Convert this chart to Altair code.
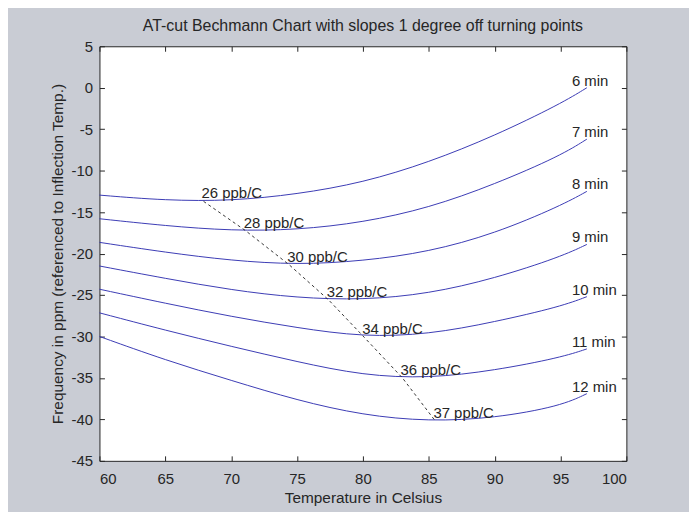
import altair as alt
import pandas as pd

# ---------------- data ----------------
temps = [60, 65, 70, 75, 80, 85, 90, 95, 97]
curve_names = ["6 min", "7 min", "8 min", "9 min", "10 min", "11 min", "12 min"]
v6 = [-12.95, -13.6, -13.65, -12.85, -11.45, -9.0, -5.8, -1.95, 0.0]
v7 = [-15.8, -16.65, -17.25, -17.15, -16.25, -14.5, -11.65, -8.2, -6.2]
v8 = [-18.65, -19.85, -20.85, -21.35, -20.9, -19.8, -17.6, -14.25, -12.5]
v9 = [-21.5, -23.0, -24.4, -25.35, -25.6, -24.85, -23.0, -20.4, -18.9]
v10 = [-24.3, -26.0, -27.6, -28.95, -30.05, -29.75, -28.25, -26.4, -25.2]
v11 = [-27.15, -29.25, -31.2, -33.05, -34.7, -35.05, -34.1, -32.55, -31.5]
v12 = [-30.0, -32.85, -35.3, -37.7, -39.5, -40.25, -39.85, -38.4, -36.9]
curve_values = [v6, v7, v8, v9, v10, v11, v12]

# turning points joined by the dashed line
tp_T = [67.9, 71.1, 74.4, 77.4, 80.1, 83.0, 85.5]
tp_v = [-13.7, -17.25, -21.35, -25.6, -30.1, -35.0, -40.2]
tp_labels = ["26 ppb/C", "28 ppb/C", "30 ppb/C", "32 ppb/C", "34 ppb/C", "36 ppb/C", "37 ppb/C"]

x_ticks = [60, 65, 70, 75, 80, 85, 90, 95, 100]
y_ticks = [5, 0, -5, -10, -15, -20, -25, -30, -35, -40, -45]

# ---------------- tables ----------------
rows = []
for name, vals in zip(curve_names, curve_values):
    for t, v in zip(temps, vals):
        rows.append({"curve": name, "T": t, "v": v})
curves_df = pd.DataFrame(rows)

ends_df = pd.DataFrame({
    "curve": curve_names,
    "T": [temps[-1]] * len(curve_names),
    "v": [vals[-1] for vals in curve_values],
})
tp_df = pd.DataFrame({"T": tp_T, "v": tp_v, "label": tp_labels})

FONT = "Liberation Sans"
INK = "#262626"
W, H = 530, 417

xscale = alt.Scale(domain=[60, 100], nice=False, zero=False)
yscale = alt.Scale(domain=[-45, 5], nice=False, zero=False)

# main axes: labels + titles, no ticks
ax_x_main = alt.Axis(orient="bottom", values=x_ticks, tickSize=0, domain=False, grid=False,
                     labelPadding=11, title="Temperature in Celsius", titlePadding=4,
                     labelFontSize=15, titleFontSize=15.5, labelExpr="toString(datum.value)")
ax_y_main = alt.Axis(orient="left", values=y_ticks, tickSize=0, domain=False, grid=False,
                     labelPadding=7, title="Frequency in ppm (referenced to Inflection Temp.)",
                     titlePadding=6, labelFontSize=15, titleFontSize=15.5,
                     labelExpr="toString(datum.value)")
# inward ticks at bottom / left
ax_x_in_bottom = alt.Axis(orient="top", offset=-H, values=x_ticks, tickSize=5, labels=False,
                          domain=False, grid=False, title=None)
ax_y_in_left = alt.Axis(orient="right", offset=-W, values=y_ticks, tickSize=5, labels=False,
                        domain=False, grid=False, title=None)
# inward ticks at top / right
ax_x_in_top = alt.Axis(orient="bottom", offset=-H, values=x_ticks, tickSize=5, labels=False,
                       domain=False, grid=False, title=None)
ax_y_in_right = alt.Axis(orient="left", offset=-W, values=y_ticks, tickSize=5, labels=False,
                         domain=False, grid=False, title=None)

lines = alt.Chart(curves_df).mark_line(color="#3b3bb4", strokeWidth=1, interpolate="basis").encode(
    x=alt.X("T:Q", scale=xscale, axis=ax_x_main),
    y=alt.Y("v:Q", scale=yscale, axis=ax_y_main),
    detail="curve:N",
    order="T:Q",
)

dashed = alt.Chart(tp_df).mark_line(color="#222222", strokeWidth=0.9, strokeDash=[3, 3]).encode(
    x=alt.X("T:Q", scale=xscale, axis=ax_x_in_bottom),
    y=alt.Y("v:Q", scale=yscale, axis=ax_y_in_left),
    order="T:Q",
)

end_labels = alt.Chart(ends_df).mark_text(
    align="left", baseline="alphabetic", dx=-15, dy=-2, font=FONT, fontSize=15, color=INK
).encode(
    x=alt.X("T:Q", scale=xscale, axis=ax_x_in_top),
    y=alt.Y("v:Q", scale=yscale, axis=ax_y_in_right),
    text="curve:N",
)

tp_text = alt.Chart(tp_df).mark_text(
    align="left", baseline="alphabetic", dx=-2, dy=-3, font=FONT, fontSize=15, color=INK
).encode(
    x=alt.X("T:Q", scale=xscale, axis=None),
    y=alt.Y("v:Q", scale=yscale, axis=None),
    text="label:N",
)

chart = alt.layer(lines, dashed, end_labels, tp_text).resolve_axis(
    x="independent", y="independent"
).properties(
    width=W,
    height=H,
    title=alt.TitleParams(
        "AT-cut Bechmann Chart with slopes 1 degree off turning points",
        font=FONT, fontSize=16, fontWeight="normal", color=INK, anchor="middle", offset=5,
    ),
    autosize=alt.AutoSizeParams(type="none"),
    padding={"left": 92, "top": 37, "right": 63, "bottom": 58},
    background="#c9ccd4",
).configure_view(
    fill="white", stroke=INK, strokeWidth=1
).configure_axis(
    labelFont=FONT, titleFont=FONT, labelColor=INK, titleColor=INK, tickColor=INK,
    titleFontWeight="normal", tickWidth=1
)

chart.save("out.html", embed_options={"renderer": "svg", "actions": False})
